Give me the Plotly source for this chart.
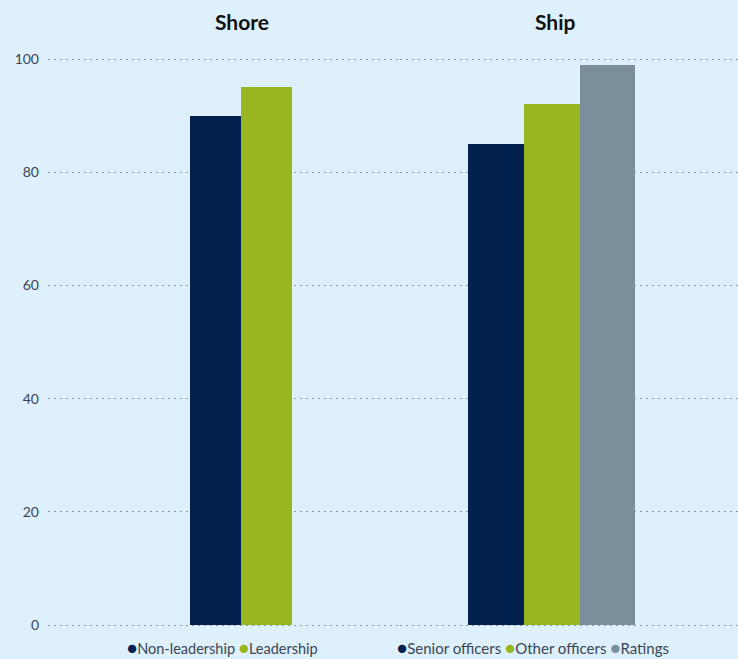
import plotly.graph_objects as go

# ---- data ----
groups = ["Shore", "Ship"]
shore_series = ["Non-leadership", "Leadership"]
shore_values = [90, 95]
ship_series = ["Senior officers", "Other officers", "Ratings"]
ship_values = [85, 92, 99]
y_ticks = [0, 20, 40, 60, 80, 100]

# ---- styles ----
shore_colors = ["#03214f", "#98b620"]
ship_colors = ["#03214f", "#98b620", "#7b8e9c"]
bg = "#ddf0fb"
text_color = "#3a4654"
font_family = "Lato, 'Open Sans', sans-serif"

W, H = 738, 659
ml, mr, mt, mb = 48, 0, 55, 30
pw = W - ml - mr
ph = H - mt - mb
split = 352 / pw
y_lo, y_hi = -0.707, 100.706


def px_x(p):
    return (p - ml) / pw


def px_y(p):
    return (H - mb - p) / ph


fig = go.Figure()
for name, val, col in zip(shore_series, shore_values, shore_colors):
    fig.add_trace(go.Bar(x=[groups[0]], y=[val], name=name, marker_color=col,
                         marker_line_width=0, xaxis="x", yaxis="y", showlegend=False))
for name, val, col in zip(ship_series, ship_values, ship_colors):
    fig.add_trace(go.Bar(x=[groups[1]], y=[val], name=name, marker_color=col,
                         marker_line_width=0, xaxis="x2", yaxis="y", showlegend=False))


def legend_text(names, colors):
    parts = [f"<span style='color:{c};font-size:17px'>●</span>{n}" for n, c in zip(names, colors)]
    return " ".join(parts)


annotations = [
    dict(text=f"<b>{groups[0]}</b>", x=px_x(241.5), y=px_y(21), xref="paper", yref="paper",
         showarrow=False, font=dict(size=21, color="#111111", family=font_family),
         xanchor="center", yanchor="middle"),
    dict(text=f"<b>{groups[1]}</b>", x=px_x(555.5), y=px_y(21), xref="paper", yref="paper",
         showarrow=False, font=dict(size=21, color="#111111", family=font_family),
         xanchor="center", yanchor="middle"),
    dict(text=legend_text(shore_series, shore_colors), x=px_x(222.5), y=px_y(647.5),
         xref="paper", yref="paper", showarrow=False,
         font=dict(size=14.5, color=text_color, family=font_family),
         xanchor="center", yanchor="middle"),
    dict(text=legend_text(ship_series, ship_colors), x=px_x(533), y=px_y(647.5),
         xref="paper", yref="paper", showarrow=False,
         font=dict(size=15, color=text_color, family=font_family),
         xanchor="center", yanchor="middle"),
]

fig.update_layout(
    width=W, height=H,
    margin=dict(l=ml, r=mr, t=mt, b=mb, pad=0),
    paper_bgcolor=bg, plot_bgcolor=bg,
    barmode="group", bargap=0, bargroupgap=0,
    font=dict(family=font_family, color=text_color),
    showlegend=False,
    annotations=annotations,
    xaxis=dict(domain=[0, split], range=[-1.892, 1.559], anchor="y",
               showticklabels=False, showgrid=False, zeroline=False, showline=False, ticks=""),
    xaxis2=dict(domain=[split, 1], range=[-0.910, 1.114], anchor="y",
                showticklabels=False, showgrid=False, zeroline=False, showline=False, ticks=""),
    yaxis=dict(range=[y_lo, y_hi], tickvals=y_ticks, ticktext=[str(t) for t in y_ticks],
               showgrid=True, gridcolor="#8d9ba8", gridwidth=1, griddash="2px,4px",
               zeroline=False, showline=False, ticks="", ticklabelstandoff=8,
               tickfont=dict(size=14, color=text_color, family=font_family)),
)

fig.write_html("out.html",
               config={"displayModeBar": False},
               post_script="document.body.style.margin='0';document.body.style.padding='0';"
                           "document.body.style.background='" + bg + "';")
